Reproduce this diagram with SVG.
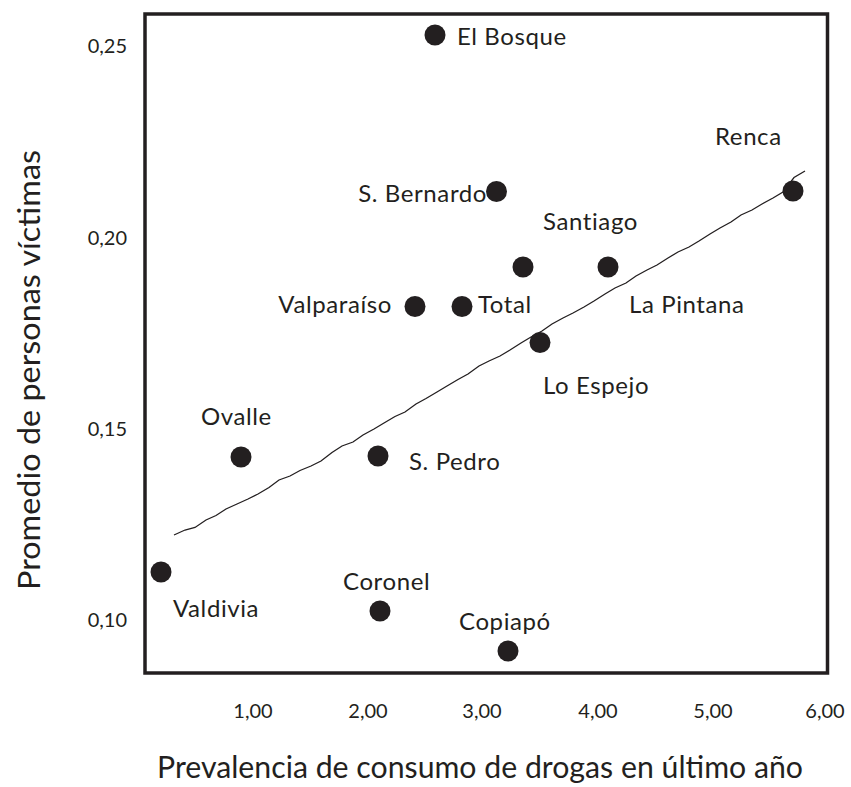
<svg xmlns="http://www.w3.org/2000/svg" width="851" height="787" viewBox="0 0 851 787">
<style>
.lbl{font-family:Lato,"Open Sans","DejaVu Sans",sans-serif;font-size:24px;fill:#231f20;letter-spacing:0.6px}
.tick{font-family:Lato,"Open Sans","DejaVu Sans",sans-serif;font-size:20px;fill:#231f20}
.title{font-family:Lato,"Open Sans","DejaVu Sans",sans-serif;font-size:31px;fill:#231f20}
.dot{fill:#231f20}
</style>
<rect width="851" height="787" fill="#ffffff"/>
<rect id="frame" x="145" y="14" width="682.5" height="659" fill="none" stroke="#231f20" stroke-width="3.5"/>
<g id="y-ticks" class="tick" text-anchor="end">
<text x="127" y="53">0,25</text>
<text x="127" y="245">0,20</text>
<text x="127" y="436">0,15</text>
<text x="127" y="627">0,10</text>
</g>
<g id="x-ticks" class="tick" text-anchor="middle">
<text x="253" y="718">1,00</text>
<text x="368" y="718">2,00</text>
<text x="482" y="718">3,00</text>
<text x="598" y="718">4,00</text>
<text x="713" y="718">5,00</text>
<text x="825" y="718">6,00</text>
</g>
<text id="x-title" class="title" x="157" y="778" textLength="646" lengthAdjust="spacingAndGlyphs">Prevalencia de consumo de drogas en último año</text>
<text id="y-title" class="title" transform="translate(40,590) rotate(-90)" x="0" y="0" textLength="440" lengthAdjust="spacingAndGlyphs">Promedio de personas víctimas</text>
<g id="connectors">
<path id="regression" fill="none" stroke="#231f20" stroke-width="1.3" d="M174,535 L185,530 L195,527.5 L206,520 L216,515.5 L226,509 L237,504 L248,499 L258,494 L269,487.5 L279,480 L290,476 L300,470.5 L311,466 L321,461 L332,452.5 L342,446 L353,442 L363,435 L374,429 L384,423 L395,416.5 L405,412 L416,404 L426,398.5 L437,392 L447,386 L458,379.5 L468,374 L479,366 L489,361 L500,356 L510,350 L521,343 L531,337 L542,331 L552,324 L563,318 L573,313 L584,307 L594,301 L605,294 L615,288 L626,283 L636,276 L647,270 L657,265 L668,258 L678,252 L689,247 L699,241 L710,234 L720,228 L731,222 L741,215 L752,210 L762,204 L773,198 L783,192 L794,177.5 L805,171"/>
</g>
<g id="node-elbosque"><circle class="dot" cx="435" cy="35" r="10.5"/><text class="lbl" x="457" y="45">El Bosque</text></g>
<g id="node-renca"><circle class="dot" cx="793" cy="191" r="10.5"/><text class="lbl" x="715" y="145">Renca</text></g>
<g id="node-sbernardo"><circle class="dot" cx="496.5" cy="191.5" r="10.5"/><text class="lbl" x="487" y="202" text-anchor="end">S. Bernardo</text></g>
<g id="node-santiago"><circle class="dot" cx="523" cy="267" r="10.5"/><text class="lbl" x="543" y="230">Santiago</text></g>
<g id="node-lapintana"><circle class="dot" cx="608" cy="267" r="10.5"/><text class="lbl" x="629" y="313">La Pintana</text></g>
<g id="node-valparaiso"><circle class="dot" cx="415" cy="306.5" r="10.5"/><text class="lbl" x="392" y="313" text-anchor="end">Valparaíso</text></g>
<g id="node-total"><circle class="dot" cx="462" cy="306.5" r="10.5"/><text class="lbl" x="478" y="313">Total</text></g>
<g id="node-loespejo"><circle class="dot" cx="540" cy="342.5" r="10.5"/><text class="lbl" x="543" y="394">Lo Espejo</text></g>
<g id="node-ovalle"><circle class="dot" cx="241" cy="457" r="10.5"/><text class="lbl" x="201" y="425">Ovalle</text></g>
<g id="node-spedro"><circle class="dot" cx="378" cy="456" r="10.5"/><text class="lbl" x="409" y="470">S. Pedro</text></g>
<g id="node-valdivia"><circle class="dot" cx="161" cy="572" r="10.5"/><text class="lbl" x="173" y="617">Valdivia</text></g>
<g id="node-coronel"><circle class="dot" cx="380" cy="611" r="10.5"/><text class="lbl" x="343" y="590">Coronel</text></g>
<g id="node-copiapo"><circle class="dot" cx="508" cy="651" r="10.5"/><text class="lbl" x="459" y="630">Copiapó</text></g>
</svg>
